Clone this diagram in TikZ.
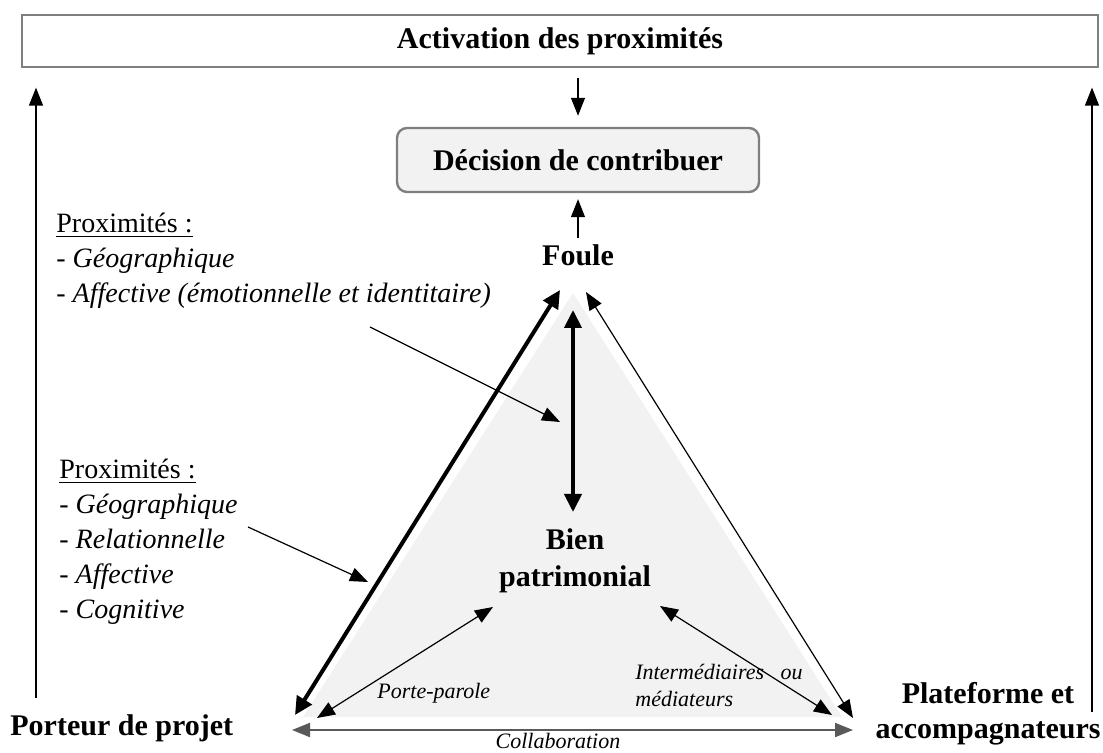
\documentclass[tikz,border=0pt]{standalone}
\usepackage{fontspec}
\setmainfont{Liberation Serif}
\usepackage{tikz}
\usetikzlibrary{arrows.meta}

\definecolor{grisclair}{HTML}{F2F2F2}
\definecolor{bordure}{HTML}{7F7F7F}
\definecolor{grisfonce}{HTML}{595959}

\tikzset{
	titre/.style={font=\fontsize{15}{18}\selectfont\bfseries},
	prox/.style={font=\fontsize{14}{17.5}\selectfont,align=left,anchor=north west,inner sep=0pt},
	petit/.style={font=\fontsize{11}{13.5}\selectfont\itshape,inner sep=0pt},
	lien/.style={line width=0.6pt,-{Triangle[length=9pt,width=7pt]}},
	liendouble/.style={line width=0.6pt,{Triangle[length=9pt,width=7pt]}-{Triangle[length=9pt,width=7pt]}},
	lienfort/.style={line width=2pt,{Triangle[length=9pt,width=8.5pt]}-{Triangle[length=9pt,width=8.5pt]}}
}

\begin{document}
\begin{tikzpicture}[x=0.5pt,y=-0.5pt]
	\useasboundingbox (0,0) rectangle (1103,753);

	\node[titre,draw=bordure,line width=0.6pt,minimum width=538pt,minimum height=26pt] (activ) at (560,41) {Activation des proximités};

	\node[titre,draw=bordure,line width=1.2pt,fill=grisclair,rounded corners=5pt,minimum width=181pt,minimum height=32pt] (decision) at (578,160) {Décision de contribuer};

	\draw[lien,shorten <=5pt,shorten >=5.5pt] (decision.north |- activ.south) -- (decision.north);

	\node[titre,anchor=base] (foule) at (578,266) {Foule};
	\draw[lien,shorten >=3pt] (foule.north) -- (decision.south);

	% triangle
	\fill[grisclair] (573,293) -- (303,717) -- (842,717) -- cycle;

	\node[titre,align=center,anchor=north,inner sep=0pt,font=\fontsize{15}{18.5}\selectfont\bfseries] (bien) at (575,528) {Bien\\patrimonial};

	\node[titre,anchor=base west,inner sep=0pt] (porteur) at (10,735) {Porteur de projet};
	\node[titre,align=center,anchor=north,inner sep=0pt,font=\fontsize{15}{17.5}\selectfont\bfseries] (plateforme) at (988,682) {Plateforme et\\accompagnateurs};

	\coordinate (fL) at (560,290);
	\coordinate (fR) at (586,292);
	\coordinate (fC) at (573,310);
	\coordinate (bC) at (573,512);
	\coordinate (pT) at (295,715);
	\coordinate (pP) at (317,718);
	\coordinate (bL) at (493,607);
	\coordinate (bR) at (660,606);
	\coordinate (aL) at (832,715);
	\coordinate (aR) at (853,718);
	\coordinate (cL) at (292,730);
	\coordinate (cR) at (853,730);

	\draw[lienfort] (pT) -- (fL);
	\draw[liendouble] (fR) -- (aR);
	\draw[lienfort] (fC) -- (bC);
	\draw[liendouble] (pP) -- (bL);
	\draw[liendouble] (bR) -- (aL);
	\draw[liendouble,draw=grisfonce,line width=1pt] (cL) -- (cR);

	\node[petit,anchor=base west] (porteparole) at (377,698) {Porte-parole};
	\node[petit,anchor=north west,align=left] (intermed) at (635,664) {Intermédiaires\ \ \ ou\\médiateurs};
	\node[petit,anchor=base] (collab) at (558,748) {Collaboration};

	% proximites
	\node[prox] (proxA) at (56,213) {\underline{Proximités :}\\- \textit{Géographique}\\- \textit{Affective (émotionnelle et identitaire)}};
	\node[prox] (proxB) at (59,459) {\underline{Proximités :}\\- \textit{Géographique}\\- \textit{Relationnelle}\\- \textit{Affective}\\- \textit{Cognitive}};

	\coordinate (tA) at (370,327);
	\coordinate (tB) at (248,527);
	\draw[lien] (tA) -- (560,422);
	\draw[lien] (tB) -- (368,582);

	% retour vers l'activation
	\coordinate (gB) at (36,698);
	\coordinate (dB) at (1092,712);
	\draw[lien,shorten >=10pt] (gB) -- (gB |- activ.south);
	\draw[lien,shorten >=10pt] (dB) -- (dB |- activ.south);
\end{tikzpicture}
\end{document}
